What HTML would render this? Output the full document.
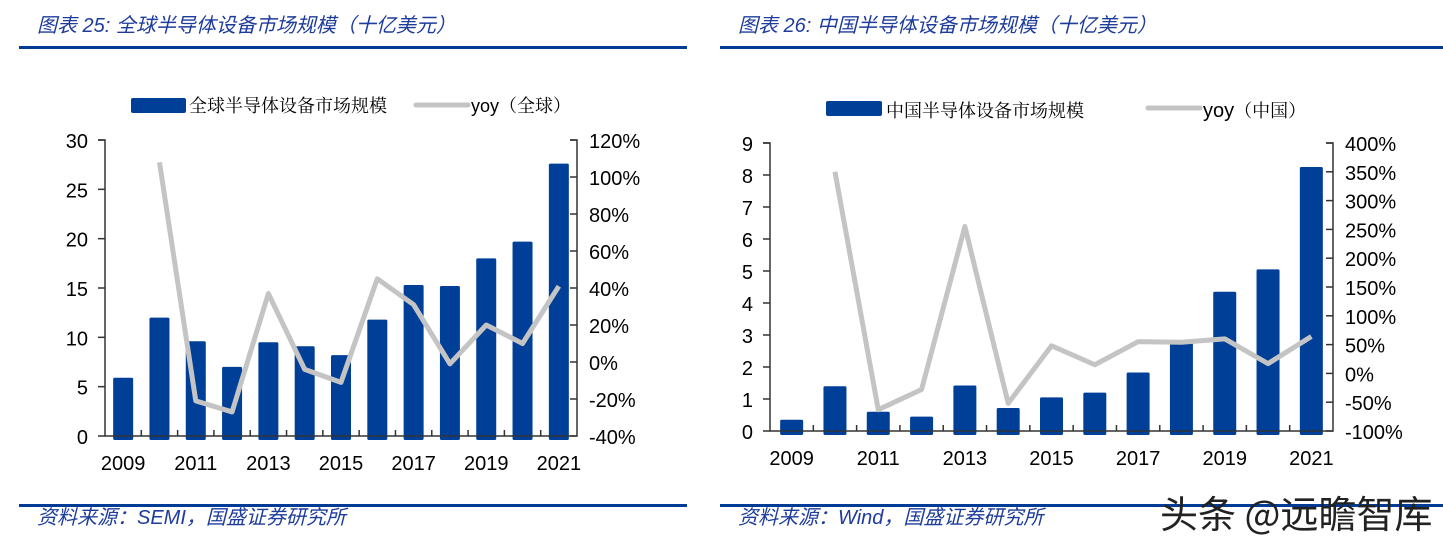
<!DOCTYPE html>
<html><head><meta charset="utf-8"><style>
body{margin:0;background:#fff;}
svg{display:block;font-family:"Liberation Sans","Noto Sans CJK SC",sans-serif;}
.t{font-style:italic;fill:#1e3c9c;font-size:20px;}
.tick{font-size:20px;fill:#000;}
.lg{font-size:18px;fill:#000;font-family:"Noto Serif CJK SC","Liberation Sans",serif;}
</style></head><body>
<svg id="svg" width="1443" height="546" viewBox="0 0 1443 546">
<g>
<text class="t" x="37" y="32">图表 25:  全球半导体设备市场规模（十亿美元）</text>
<rect x="19" y="46" width="668" height="3" fill="#003c96"/>
<rect x="19" y="504" width="668" height="3" fill="#003c96"/>
<text class="t" x="37" y="524">资料来源：SEMI，国盛证券研究所</text>
</g>
<g>
<text class="t" x="738" y="32">图表 26:  中国半导体设备市场规模（十亿美元）</text>
<rect x="720" y="46" width="723" height="3" fill="#003c96"/>
<rect x="720" y="504" width="723" height="3" fill="#003c96"/>
<text class="t" x="738" y="524">资料来源：Wind，国盛证券研究所</text>
</g>
<g>
<rect x="131" y="98" width="55" height="15" rx="2" fill="#003f98"/>
<text class="lg" x="189" y="112">全球半导体设备市场规模</text>
<line x1="416" y1="105" x2="468" y2="105" stroke="#c4c4c4" stroke-width="5" stroke-linecap="round"/>
<text class="lg" x="471" y="112"><tspan font-family="Liberation Sans">yoy</tspan>（全球）</text>
</g>
<g>
<rect x="826" y="101" width="56" height="15" rx="2" fill="#003f98"/>
<text class="lg" x="886" y="117" font-size="19">中国半导体设备市场规模</text>
<line x1="1148" y1="108" x2="1200" y2="108" stroke="#c4c4c4" stroke-width="5" stroke-linecap="round"/>
<text class="lg" x="1203" y="117" font-size="19"><tspan font-family="Liberation Sans" font-size="20">yoy</tspan>（中国）</text>
</g>
<text x="1160" y="528" font-size="38" fill="#222" font-family="Noto Sans CJK SC,sans-serif">头条 @远瞻智库</text>
<g id="c1"></g>
<g id="c2"></g>
</svg>
<script>
const years = ["2009","2010","2011","2012","2013","2014","2015","2016","2017","2018","2019","2020","2021"];
const xLabels = ["2009","2011","2013","2015","2017","2019","2021"];
const globalMarket = [5.9,12.0,9.6,7.0,9.5,9.1,8.2,11.8,15.3,15.2,18.0,19.7,27.6];
const globalYoy = [null,108,-21,-27,37,-4,-11,45,31,-1,20,10,41];
const globalLeftTicks = [0,5,10,15,20,25,30];
const globalRightTicks = [-40,-20,0,20,40,60,80,100,120];
const chinaMarket = [0.35,1.4,0.6,0.45,1.42,0.72,1.05,1.2,1.83,2.75,4.35,5.05,8.25];
const chinaYoy = [null,350,-63,-28,255,-52,48,15,55,54,60,17,64];
const chinaLeftTicks = [0,1,2,3,4,5,6,7,8,9];
const chinaRightTicks = [-100,-50,0,50,100,150,200,250,300,350,400];
const NS="http://www.w3.org/2000/svg";
function mk(p,tag,at){const e=document.createElementNS(NS,tag);for(const k in at)e.setAttribute(k,at[k]);p.appendChild(e);return e;}
function draw(g,cfg,bars,yoy,lt,rt){
  const {x0,x1,yTop,yBot,bw,lmax,rmin,rmax,pre}=cfg;
  const step=(x1-x0)/years.length;
  const xc=i=>x0+step*(i+0.5);
  const yl=v=>yBot-(v/lmax)*(yBot-yTop);
  const yr=v=>yBot-(v-rmin)/(rmax-rmin)*(yBot-yTop);
  bars.forEach((v,i)=>{
    const r=mk(g,'rect',{x:xc(i)-bw/2,y:yl(v),width:bw,height:yBot-yl(v)+4,fill:'#003f98',rx:1.5});
    
    
  });
  const ax=mk(g,'path',{d:`M${x0-7} ${yTop}H${x0}V${yBot}H${x1}V${yTop}H${x1-7}`,stroke:'#333',fill:'none','stroke-width':1.5});
  
  
  lt.forEach(v=>{
    const t=mk(g,'line',{x1:x0-7,x2:x0,y1:yl(v),y2:yl(v),stroke:'#333','stroke-width':1.5});
    
    
    const s=mk(g,'text',{x:x0-17,y:yl(v)+8,'text-anchor':'end',class:'tick'});s.textContent=v;
    
    
  });
  rt.forEach(v=>{
    const t=mk(g,'line',{x1:x1-7,x2:x1,y1:yr(v),y2:yr(v),stroke:'#333','stroke-width':1.5});
    
    
    const s=mk(g,'text',{x:x1+12,y:yr(v)+8,class:'tick'});s.textContent=v+'%';
    
    
  });
  for(let i=1;i<years.length;i++){
    const t=mk(g,'line',{x1:x0+step*i,x2:x0+step*i,y1:yBot,y2:yBot-6,stroke:'#333','stroke-width':1.5});
    
    
  }
  years.forEach((y,i)=>{
    if(!xLabels.includes(y))return;
    const s=mk(g,'text',{x:xc(i),y:yBot+34,'text-anchor':'middle',class:'tick'});s.textContent=y;
    
    
  });
  const pts=[];yoy.forEach((v,i)=>{if(v!==null)pts.push(xc(i)+','+yr(v));});
  const l=mk(g,'polyline',{points:pts.join(' '),fill:'none',stroke:'#c4c4c4','stroke-width':5,'stroke-linejoin':'round'});
  
  
}
draw(document.getElementById('c1'),{x0:105,x1:577,yTop:140,yBot:436,bw:20,lmax:30,rmin:-40,rmax:120,pre:'global'},globalMarket,globalYoy,globalLeftTicks,globalRightTicks);
draw(document.getElementById('c2'),{x0:770,x1:1333,yTop:143,yBot:431,bw:23,lmax:9,rmin:-100,rmax:400,pre:'china'},chinaMarket,chinaYoy,chinaLeftTicks,chinaRightTicks);
</script>
</body></html>
